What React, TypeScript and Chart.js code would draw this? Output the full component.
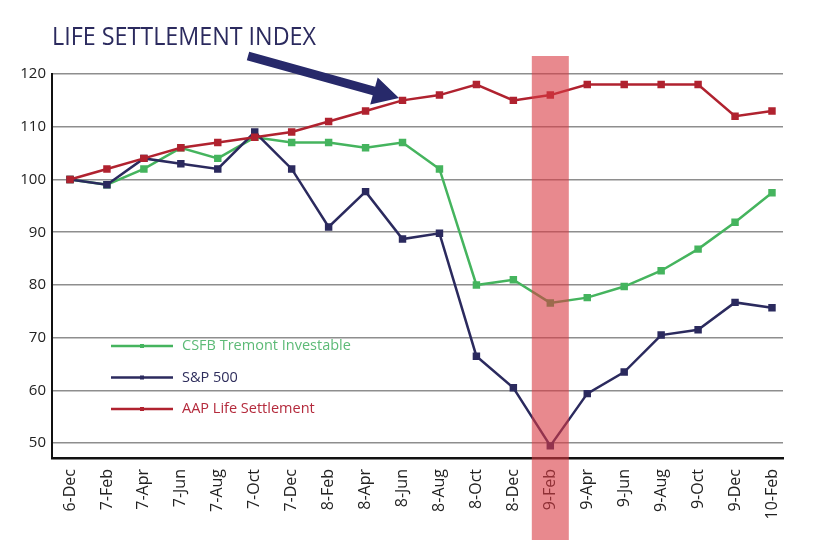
import React, { useEffect, useRef } from "react";
import { Chart, registerables } from "chart.js";

Chart.register(...registerables);

const categories = [
  "6-Dec", "7-Feb", "7-Apr", "7-Jun", "7-Aug", "7-Oct", "7-Dec", "8-Feb", "8-Apr", "8-Jun",
  "8-Aug", "8-Oct", "8-Dec", "9-Feb", "9-Apr", "9-Jun", "9-Aug", "9-Oct", "9-Dec", "10-Feb",
];
const aapLifeSettlement = [100, 102, 104, 106, 107, 108, 109, 111, 113, 115, 116, 118, 115, 116, 118, 118, 118, 118, 112, 113];
const sp500 = [100, 99, 104, 103, 102, 109, 102, 91, 97.7, 88.7, 89.8, 66.5, 60.5, 49.5, 59.4, 63.5, 70.5, 71.5, 76.7, 75.7];
const csfbTremont = [100, 99, 102, 106, 104, 108, 107, 107, 106, 107, 102, 80, 81, 76.6, 77.6, 79.7, 82.7, 86.8, 91.9, 97.5];
const yTickValues = [50, 60, 70, 80, 90, 100, 110, 120];
const highlightCategory = "9-Feb";
const titleText = "LIFE SETTLEMENT INDEX";
const seriesNames = ["CSFB Tremont Investable", "S&P 500", "AAP Life Settlement"];

const FONT = '"Open Sans", "Noto Sans", sans-serif';
const GREEN = "#45b45e";
const NAVY = "#2b2a5e";
const RED = "#b0222f";
const ARROW = "#27296a";

function drawArrow(ctx: CanvasRenderingContext2D, x1: number, y1: number, x2: number, y2: number, shaft: number, headLen: number, headW: number) {
  const ang = Math.atan2(y2 - y1, x2 - x1);
  const L = Math.hypot(x2 - x1, y2 - y1);
  ctx.save();
  ctx.translate(x1, y1);
  ctx.rotate(ang);
  ctx.beginPath();
  ctx.moveTo(0, -shaft / 2);
  ctx.lineTo(L - headLen, -shaft / 2);
  ctx.lineTo(L - headLen, -headW / 2);
  ctx.lineTo(L, 0);
  ctx.lineTo(L - headLen, headW / 2);
  ctx.lineTo(L - headLen, shaft / 2);
  ctx.lineTo(0, shaft / 2);
  ctx.closePath();
  ctx.fill();
  ctx.restore();
}

const overlayPlugin = {
  id: "overlay",
  afterDraw(chart: any) {
    const ctx: CanvasRenderingContext2D = chart.ctx;
    const area = chart.chartArea;
    ctx.save();
    // title
    ctx.fillStyle = NAVY;
    ctx.font = `25px ${FONT}`;
    ctx.textAlign = "left";
    ctx.textBaseline = "alphabetic";
    ctx.fillText(titleText, area.left, 45, 264);
    // arrow
    ctx.fillStyle = ARROW;
    drawArrow(ctx, 248, 56, 399, 98, 9, 26, 28);
    // legend
    const entries = [
      { label: seriesNames[0], color: GREEN, text: "#5cba76" },
      { label: seriesNames[1], color: NAVY, text: "#2e2d5c" },
      { label: seriesNames[2], color: RED, text: "#b42a3c" },
    ];
    entries.forEach((e, i) => {
      const y = 346 + i * 31.5;
      ctx.strokeStyle = e.color;
      ctx.lineWidth = 2.5;
      ctx.beginPath();
      ctx.moveTo(111, y);
      ctx.lineTo(173, y);
      ctx.stroke();
      ctx.fillStyle = e.color;
      ctx.fillRect(140, y - 2, 4, 4);
      ctx.fillStyle = e.text;
      ctx.font = `14.5px ${FONT}`;
      ctx.textBaseline = "middle";
      ctx.fillText(e.label, 182, y);
    });
    // highlight band
    const xs = chart.scales.x;
    const cx = xs.getPixelForValue(categories.indexOf(highlightCategory));
    ctx.fillStyle = "rgba(217,58,67,0.6)";
    ctx.fillRect(cx - 18.5, 56, 37, 484);
    ctx.restore();
  },
};

export default function App() {
  const ref = useRef<HTMLCanvasElement>(null);
  useEffect(() => {
    const toPts = (arr: number[]) => arr.map((v, i) => ({ x: i, y: v }));
    const ds = (label: string, data: number[], color: string) => ({
      label,
      data: toPts(data),
      borderColor: color,
      backgroundColor: color,
      pointBackgroundColor: color,
      pointBorderColor: color,
      pointStyle: "rect",
      pointRadius: 3.5,
      borderWidth: 2.5,
      tension: 0,
    });
    const chart = new Chart(ref.current!, {
      type: "line",
      data: {
        datasets: [
          ds(seriesNames[2], aapLifeSettlement, RED),
          ds(seriesNames[1], sp500, NAVY),
          ds(seriesNames[0], csfbTremont, GREEN),
        ],
      },
      options: {
        responsive: false,
        animation: false,
        layout: { padding: { top: 74, right: 41, left: 0, bottom: 0 } },
        plugins: { legend: { display: false }, tooltip: { enabled: false }, title: { display: false } },
        scales: {
          x: {
            type: "linear",
            min: -0.487,
            max: 19.298,
            grid: { display: false, drawTicks: false },
            border: { display: true, color: "#111", width: 2.5 },
            afterBuildTicks: (s: any) => {
              s.ticks = categories.map((_, i) => ({ value: i }));
            },
            ticks: {
              minRotation: 90,
              maxRotation: 90,
              autoSkip: false,
              padding: 11,
              color: "#222",
              font: { family: FONT, size: 16 },
              callback: (v: any) => categories[v as number] ?? "",
            },
            afterFit: (s: any) => {
              s.height = 98;
            },
          },
          y: {
            min: 47.2,
            max: 120,
            grid: { color: "#8e8e8e", lineWidth: 1.5, drawTicks: false },
            border: { display: true, color: "#111", width: 2 },
            afterBuildTicks: (s: any) => {
              s.ticks = yTickValues.map((v) => ({ value: v }));
            },
            ticks: { padding: 6, color: "#222", font: { family: FONT, size: 15 } },
            afterFit: (s: any) => {
              s.width = 52;
            },
          },
        },
      } as any,
      plugins: [overlayPlugin],
    });
    return () => chart.destroy();
  }, []);
  return (
    <div style={{ position: "absolute", left: 0, top: 0, width: 824, height: 556, background: "#fff" }}>
      <canvas ref={ref} width={824} height={556} style={{ display: "block" }} />
    </div>
  );
}
